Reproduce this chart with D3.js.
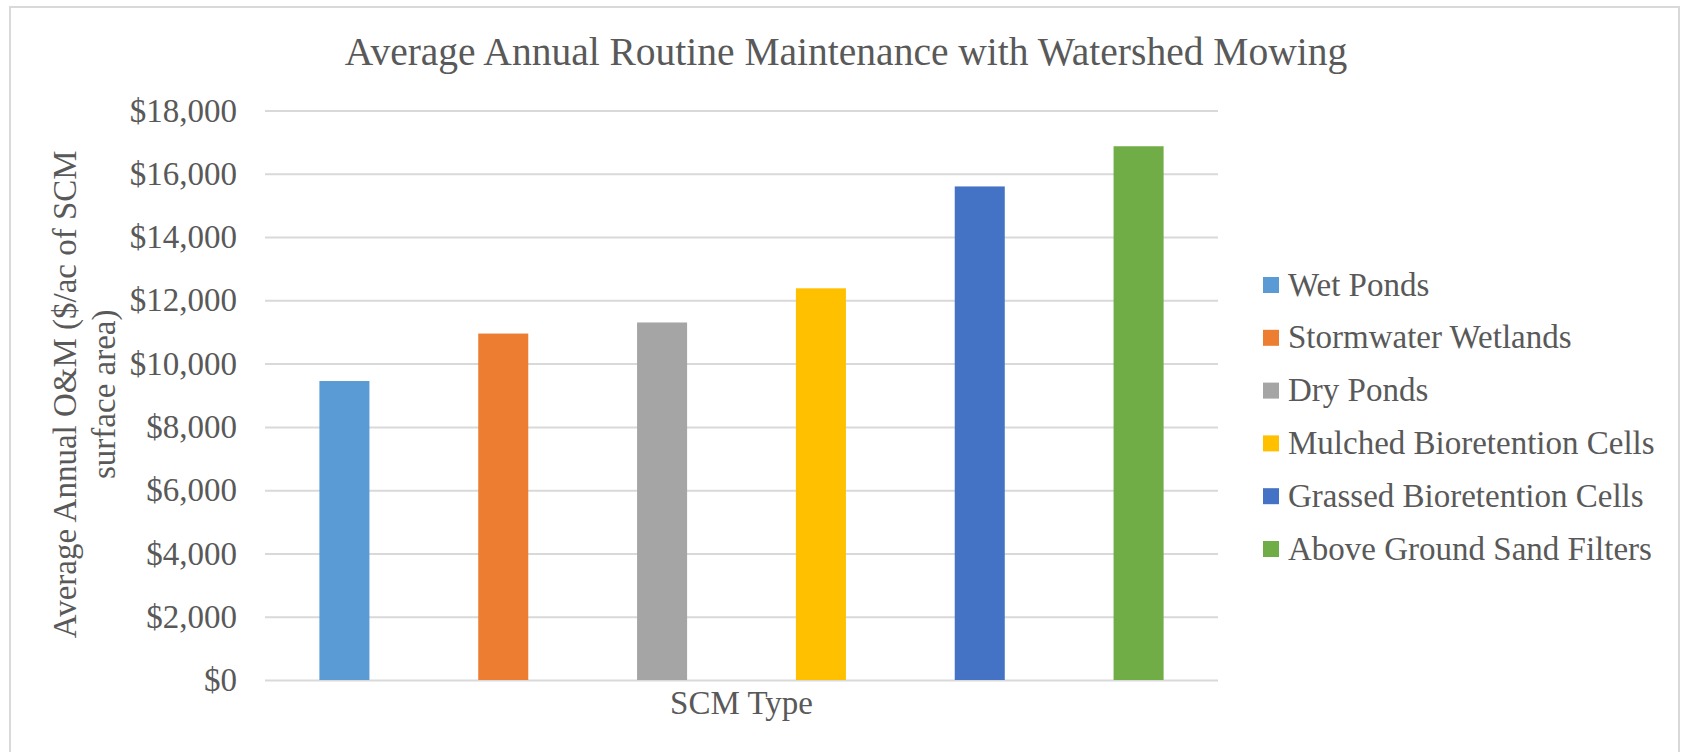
<!DOCTYPE html>
<html>
<head>
<meta charset="utf-8">
<script src="https://cdn.jsdelivr.net/npm/d3@7"></script>
<style>
  body { margin: 0; background: #ffffff; }
  svg { display: block; }
  svg text { font-family: "Liberation Serif", "Times New Roman", serif; }
</style>
</head>
<body>
<div id="chart"></div>
<script>
// chart data
const seriesNames = ["Wet Ponds", "Stormwater Wetlands", "Dry Ponds",
    "Mulched Bioretention Cells", "Grassed Bioretention Cells", "Above Ground Sand Filters"];
const seriesValues = [9450, 10950, 11300, 12380, 15600, 16870];
const seriesColors = ["#5B9BD5", "#ED7D31", "#A5A5A5", "#FFC000", "#4472C4", "#70AD47"];
const yTicks = [0, 2000, 4000, 6000, 8000, 10000, 12000, 14000, 16000, 18000];
const chartTitle = "Average Annual Routine Maintenance with Watershed Mowing";
const xTitle = "SCM Type";
const yTitleLines = ["Average Annual O&M ($/ac of SCM", "surface area)"];

var width = 1683, height = 752;
var plot = { left: 265, right: 1218, top: 110.5, bottom: 680 };
var textColor = "#595959", gridColor = "#D9D9D9";

var svg = d3.select("#chart")
    .append("svg")
    .attr("width", width)
    .attr("height", height);

// outer chart frame
svg.append("rect")
    .attr("x", 10).attr("y", 7)
    .attr("width", 1669).attr("height", 800)
    .attr("fill", "none")
    .attr("stroke", gridColor)
    .attr("stroke-width", 2);

var x = d3.scaleBand()
    .domain(seriesNames)
    .range([plot.left, plot.right])
    .paddingInner(0.685)
    .paddingOuter(0.3425);

var y = d3.scaleLinear()
    .domain([0, 18000])
    .range([plot.bottom, plot.top]);

// y axis with gridlines
var yAxis = svg.append("g")
    .attr("transform", "translate(" + plot.left + ",0)")
    .call(d3.axisLeft(y)
        .tickValues(yTicks)
        .tickFormat(function (d) { return "$" + d3.format(",")(d); })
        .tickSize(-(plot.right - plot.left))
        .tickPadding(28));

yAxis.select(".domain").remove();
yAxis.selectAll(".tick line")
    .attr("stroke", gridColor)
    .attr("stroke-width", 2);
yAxis.selectAll(".tick text")
    .attr("fill", textColor)
    .attr("font-size", "33px");

// bars
svg.selectAll(".bar")
    .data(seriesNames)
    .enter()
    .append("rect")
    .attr("class", "bar")
    .attr("x", function (d) { return x(d); })
    .attr("width", x.bandwidth())
    .attr("y", function (d, i) { return y(seriesValues[i]); })
    .attr("height", function (d, i) { return y(0) - y(seriesValues[i]); })
    .attr("fill", function (d, i) { return seriesColors[i]; });

// title
svg.append("text")
    .attr("x", 846)
    .attr("y", 65)
    .attr("text-anchor", "middle")
    .attr("font-size", "39.5px")
    .attr("fill", textColor)
    .text(chartTitle);

// x axis title
svg.append("text")
    .attr("x", (plot.left + plot.right) / 2)
    .attr("y", 713.5)
    .attr("text-anchor", "middle")
    .attr("font-size", "33px")
    .attr("fill", textColor)
    .text(xTitle);

// y axis title, two lines
var yTitle = svg.append("text")
    .attr("transform", "translate(76," + ((plot.top + plot.bottom) / 2 - 1) + ") rotate(-90)")
    .attr("text-anchor", "middle")
    .attr("font-size", "33px")
    .attr("fill", textColor);

yTitle.selectAll("tspan")
    .data(yTitleLines)
    .enter()
    .append("tspan")
    .attr("x", 0)
    .attr("y", function (d, i) { return i * 39; })
    .text(function (d) { return d; });

// legend
var legend = svg.selectAll(".legend")
    .data(seriesNames)
    .enter()
    .append("g")
    .attr("class", "legend")
    .attr("transform", function (d, i) { return "translate(1263," + (285 + i * 52.8) + ")"; });

legend.append("rect")
    .attr("x", 0).attr("y", -8)
    .attr("width", 16).attr("height", 16)
    .attr("fill", function (d, i) { return seriesColors[i]; });

legend.append("text")
    .attr("x", 25)
    .attr("y", 0)
    .attr("dy", "0.32em")
    .attr("font-size", "33px")
    .attr("fill", textColor)
    .text(function (d) { return d; });
</script>
</body>
</html>
